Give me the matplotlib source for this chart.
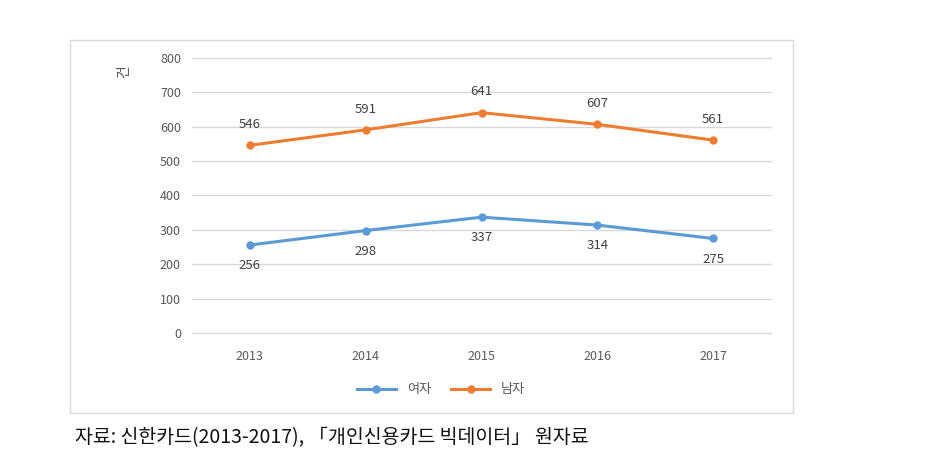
import matplotlib.pyplot as plt
from matplotlib.patches import Rectangle

plt.rcParams['font.family'] = ['Noto Sans CJK KR', 'DejaVu Sans']

years = ['2013', '2014', '2015', '2016', '2017']
female = [256, 298, 337, 314, 275]
male = [546, 591, 641, 607, 561]
yticks = [0, 100, 200, 300, 400, 500, 600, 700, 800]

fig = plt.figure(figsize=(9.33, 4.58), dpi=100)
ax = fig.add_axes([0.2058, 0.2729, 0.6206, 0.6005])

# chart area border
fig.patches.append(Rectangle((70 / 933, 1 - 413 / 458), 723 / 933, 373 / 458,
                             transform=fig.transFigure, fill=False,
                             edgecolor='#d9d9d9', linewidth=1))

x = range(len(years))
ax.plot(x, female, color='#5b9bd5', linewidth=2.2, marker='o', markersize=5, label='여자')
ax.plot(x, male, color='#ed7d31', linewidth=2.2, marker='o', markersize=5, label='남자')

for i, v in enumerate(male):
    ax.annotate(str(v), (i, v), xytext=(0, 15), textcoords='offset points',
                ha='center', va='center', fontsize=9.5, color='#404040')
for i, v in enumerate(female):
    ax.annotate(str(v), (i, v), xytext=(0, -15), textcoords='offset points',
                ha='center', va='center', fontsize=9.5, color='#404040')

ax.set_xlim(-0.5, len(years) - 0.5)
ax.set_ylim(0, 800)
ax.set_yticks(yticks)
ax.set_xticks(list(x))
ax.set_xticklabels(years)
ax.grid(axis='y', color='#d9d9d9', linewidth=1)
for gl in ax.get_ygridlines():
    gl.set_clip_on(False)
ax.set_axisbelow(True)
for s in ax.spines.values():
    s.set_visible(False)
ax.tick_params(length=0, labelsize=9, colors='#595959', pad=8)
ax.tick_params(axis='x', pad=12)

fig.text(124 / 933, 1 - 72 / 458, '건', rotation=90, fontsize=10, color='#595959',
         ha='center', va='center')

ax.legend(loc='upper center', bbox_to_anchor=(0.43, -0.14), ncol=2, frameon=False,
          fontsize=9.5, labelcolor='#595959', handlelength=3, columnspacing=1.5)

fig.text(75 / 933, 1 - 438 / 458, '자료: 신한카드(2013-2017), 「개인신용카드 빅데이터」 원자료',
         fontsize=14, fontweight='medium', color='#111111', ha='left', va='center')

fig.savefig('out.png', dpi=100, facecolor='white')
